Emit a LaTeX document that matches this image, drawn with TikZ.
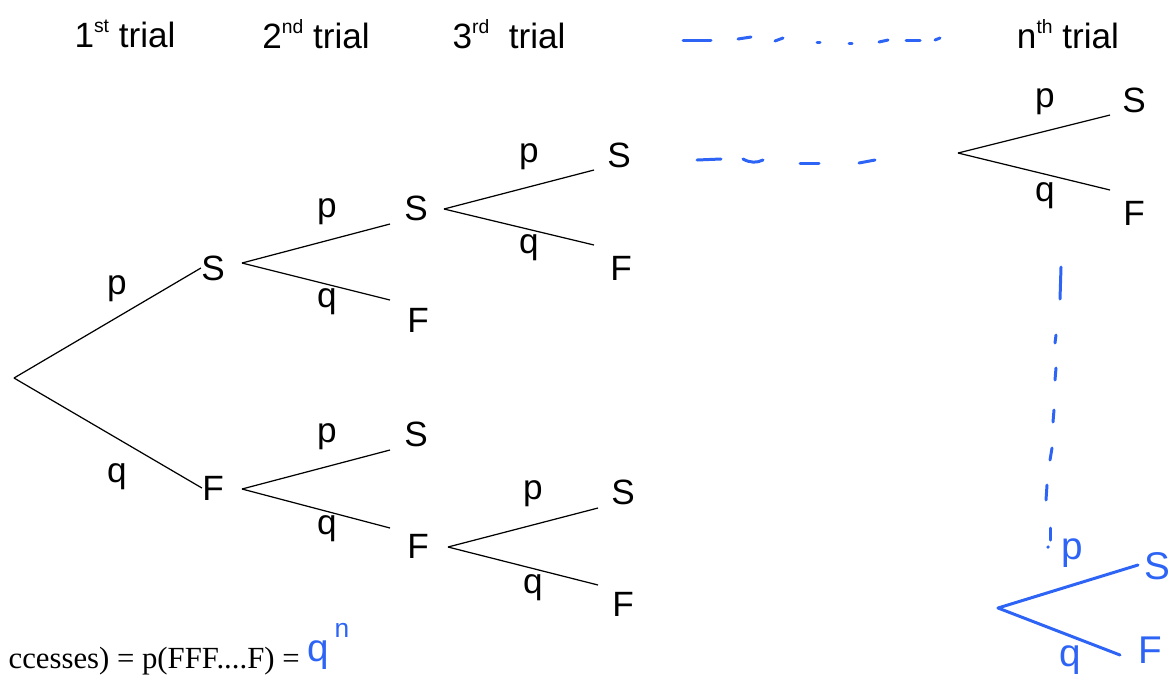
\documentclass[tikz,border=0pt]{standalone}
\usepackage{fontspec}
\setmainfont{Liberation Sans}
\newfontfamily\timesfont{Liberation Serif}
\definecolor{pen}{RGB}{45,100,245}
\newcommand\ordsup[1]{\raisebox{0.8ex}{\fontsize{11}{12}\selectfont #1}}

\begin{document}
\begin{tikzpicture}[x=0.02cm,y=-0.02cm,
    lbl/.style={inner sep=0pt, font=\fontsize{20}{24}\selectfont},
    branch/.style={line width=0.7pt},
    ink/.style={pen, line width=1.7pt, line cap=round},
    inklbl/.style={inner sep=0pt, pen, font=\fontsize{22}{26}\selectfont}]
    \useasboundingbox (0,0) rectangle (1173,674);

    % Trial headings
    \node[lbl] (t1) at (125,34) {1\ordsup{st} trial};
    \node[lbl] (t2) at (316,34) {2\ordsup{nd} trial};
    \node[lbl] (t3) at (509,34) {3\ordsup{rd}\ \ trial};
    \node[lbl] (tn) at (1068,34) {n\ordsup{th} trial};

    % First trial
    \coordinate (o) at (14,378);
    \node[lbl] (S1) at (213,268) {S};
    \node[lbl] (F1) at (213,488) {F};
    \draw[branch] (o) -- (S1.west);
    \draw[branch] (o) -- (F1.west);
    \node[lbl] (p1) at (117,289) {p};
    \node[lbl] (q1) at (117,477) {q};

    % Second trial after S
    \coordinate (s1) at (242,263);
    \coordinate (s1u) at (390,224);
    \coordinate (s1d) at (390,300);
    \draw[branch] (s1) -- (s1u);
    \draw[branch] (s1) -- (s1d);
    \node[lbl] (SS) at (416,208) {S};
    \node[lbl] (SF) at (418,320) {F};
    \node[lbl] (p2) at (327,212) {p};
    \node[lbl] (q2) at (327,302) {q};

    % Second trial after F
    \coordinate (f1) at (242,489);
    \coordinate (f1u) at (390,450);
    \coordinate (f1d) at (390,528);
    \draw[branch] (f1) -- (f1u);
    \draw[branch] (f1) -- (f1d);
    \node[lbl] (FS) at (416,434) {S};
    \node[lbl] (FF) at (418,546) {F};
    \node[lbl] (p3) at (327,437) {p};
    \node[lbl] (q3) at (327,529) {q};

    % Third trial after SS
    \coordinate (ss) at (444,209);
    \coordinate (ssu) at (594,170);
    \coordinate (ssd) at (594,245);
    \draw[branch] (ss) -- (ssu);
    \draw[branch] (ss) -- (ssd);
    \node[lbl] (SSS) at (619,155) {S};
    \node[lbl] (SSF) at (621,268) {F};
    \node[lbl] (p4) at (529,157) {p};
    \node[lbl] (q4) at (529,248) {q};

    % Third trial after FF
    \coordinate (ff) at (448,547);
    \coordinate (ffu) at (598,508);
    \coordinate (ffd) at (598,585);
    \draw[branch] (ff) -- (ffu);
    \draw[branch] (ff) -- (ffd);
    \node[lbl] (FFS) at (623,492) {S};
    \node[lbl] (FFF) at (623,604) {F};
    \node[lbl] (p5) at (533,494) {p};
    \node[lbl] (q5) at (533,588) {q};

    % n-th trial
    \coordinate (nn) at (958,153);
    \coordinate (nnu) at (1110,115);
    \coordinate (nnd) at (1110,190);
    \draw[branch] (nn) -- (nnu);
    \draw[branch] (nn) -- (nnd);
    \node[lbl] (NS) at (1134,100) {S};
    \node[lbl] (NF) at (1134,213) {F};
    \node[lbl] (p6) at (1045,102) {p};
    \node[lbl] (q6) at (1045,196) {q};

    % Bottom formula
    \node[anchor=base east, inner sep=0pt, font=\timesfont\fontsize{17.5}{20}\selectfont] (eq) at (300,668) {ccesses) = p(FFF....F) =};

    % Handwritten additions
    \foreach \xa/\ya/\xb/\yb in {683/40/711/40, 738/39/751/37, 775/41/783/38, 817/42/820/42,
        849/43/852/43, 879/42/888/40, 906/40/920/40, 935/40/940/38,
        697/160/721/159, 800/163/819/163, 859/163/875/160,
        1061/267/1060/299, 1056/335/1055/343, 1056/368/1055/380, 1054/410/1053/422,
        1052/448/1050/460, 1047/485/1046/500, 1050/528/1050/540}
        \draw[ink] (\xa,\ya) -- (\xb,\yb);
    \draw[ink] (743,159) .. controls (750,163) and (757,163) .. (763,160);
    \fill[pen] (1048,547) circle (1pt);

    \coordinate (hn) at (998,608);
    \coordinate (hnu) at (1138,565);
    \coordinate (hnd) at (1120,655);
    \draw[ink] (hn) -- (hnu);
    \draw[ink] (hn) -- (hnd);
    \node[inklbl] (hS) at (1157,566) {S};
    \node[inklbl] (hF) at (1150,650) {F};
    \node[inklbl] (hp) at (1072,553) {p};
    \node[inklbl] (hq) at (1070,660) {q};

    \node[inklbl] (hq2) at (318,655) {q};
    \node[inklbl, font=\fontsize{15}{18}\selectfont] (hn2) at (342,630) {n};
\end{tikzpicture}
\end{document}
